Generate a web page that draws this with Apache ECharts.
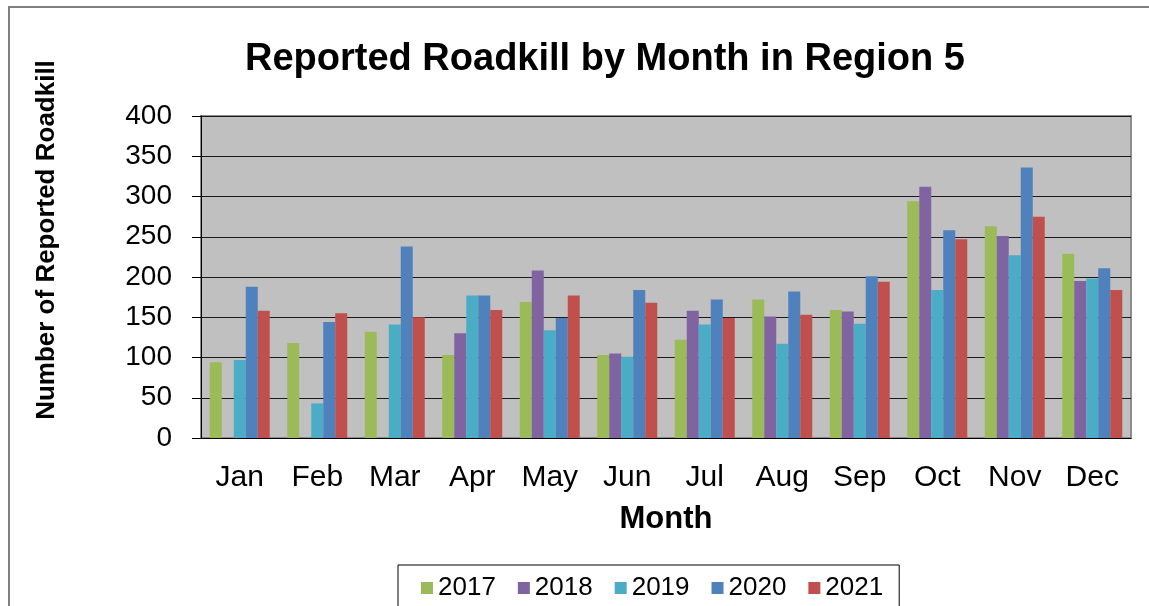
<!DOCTYPE html>
<html>
<head>
<meta charset="utf-8">
<script src="https://cdn.jsdelivr.net/npm/echarts@6/dist/echarts.min.js"></script>
<style>
  html, body { margin: 0; padding: 0; background: #fff; }
  #chart { width: 1149px; height: 606px; }
</style>
</head>
<body>
<div id="chart"></div>
<script>
// data
const months = ['Jan', 'Feb', 'Mar', 'Apr', 'May', 'Jun', 'Jul', 'Aug', 'Sep', 'Oct', 'Nov', 'Dec'];
const years = ['2017', '2018', '2019', '2020', '2021'];
const y2017 = [94, 118, 132, 103, 169, 103, 122, 172, 159, 294, 263, 229];
const y2018 = [null, null, null, 130, 208, 105, 158, 151, 157, 312, 251, 195];
const y2019 = [97, 43, 141, 177, 134, 101, 141, 117, 142, 184, 227, 198];
const y2020 = [188, 144, 238, 177, 149, 184, 172, 182, 201, 258, 336, 211];
const y2021 = [158, 155, 150, 159, 177, 168, 149, 153, 194, 247, 275, 184];
const yTicks = [0, 50, 100, 150, 200, 250, 300, 350, 400];

const colors = ['#9bbb59', '#8064a2', '#4bacc6', '#4f81bd', '#c0504d'];
const FONT = '"Liberation Sans", Arial, sans-serif';

const chart = echarts.init(document.getElementById('chart'));

const seriesData = [y2017, y2018, y2019, y2020, y2021];

chart.setOption({
    backgroundColor: '#fff',
    animation: false,
    color: colors,
    textStyle: { fontFamily: FONT },
    title: {
        text: 'Reported Roadkill by Month in Region 5',
        left: 240, top: 36,
        textStyle: { fontSize: 38, fontWeight: 'bold', color: '#000', fontFamily: FONT }
    },
    // outer chart frame
    graphic: [{
        type: 'rect', silent: true, z: -1,
        shape: { x: 9, y: 7, width: 1300, height: 800 },
        style: { fill: 'none', stroke: '#808080', lineWidth: 2 }
    }],
    legend: {
        data: years,
        left: 398, top: 565,
        padding: [10, 16, 30, 23],
        itemWidth: 12, itemHeight: 12, itemGap: 22,
        icon: 'rect',
        borderColor: '#000', borderWidth: 1,
        textStyle: { fontSize: 26, color: '#000', fontFamily: FONT }
    },
    grid: {
        left: 201, right: 18, top: 116, bottom: 168,
        show: true, backgroundColor: '#c0c0c0',
        borderColor: '#8c8c8c', borderWidth: 2
    },
    xAxis: {
        type: 'category',
        data: months,
        name: 'Month', nameLocation: 'middle', nameGap: 66,
        nameTextStyle: { fontSize: 31, fontWeight: 'bold', color: '#000', fontFamily: FONT },
        axisLine: { lineStyle: { color: '#000', width: 1 } },
        axisTick: { length: 9, lineStyle: { color: '#000' } },
        axisLabel: { fontSize: 30, color: '#000', margin: 25, fontFamily: FONT }
    },
    yAxis: {
        type: 'value',
        min: yTicks[0], max: yTicks[yTicks.length - 1], interval: 50,
        name: 'Number of Reported Roadkill', nameLocation: 'middle', nameGap: 141,
        nameTextStyle: {
            fontSize: 26, fontWeight: 'bold', color: '#000', fontFamily: FONT,
            padding: [0, 0, 0, 74]
        },
        axisLine: { show: true, lineStyle: { color: '#000', width: 1 } },
        axisTick: { show: true, length: 9, lineStyle: { color: '#000' } },
        axisLabel: { fontSize: 28, color: '#000', margin: 29, fontFamily: FONT },
        splitLine: { lineStyle: { color: '#1a1a1a', width: 1 } }
    },
    series: years.map((y, i) => ({
        name: y,
        type: 'bar',
        data: seriesData[i],
        barWidth: 12,
        barGap: '0%',
        itemStyle: { color: colors[i] }
    }))
});
</script>
</body>
</html>
